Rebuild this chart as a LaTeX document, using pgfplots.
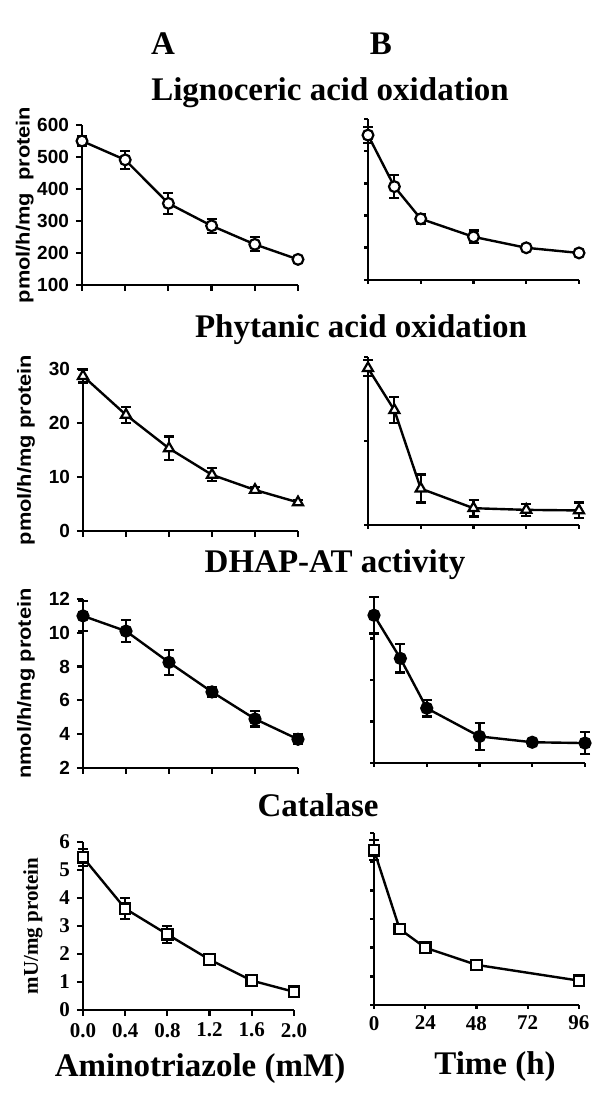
\documentclass[border=0pt]{standalone}
\usepackage{fontspec}
\setmainfont{Liberation Serif}
\newfontfamily\sansw[FakeStretch=1.15]{Liberation Sans}
\newfontfamily\sansn{Liberation Sans}
\usepackage{pgfplots}
\usepackage{pgfplotstable}
\pgfplotsset{compat=1.18}

\pgfplotstableread{
x y e
0   550 15
0.4 491 28
0.8 355 32
1.2 285 22
1.6 227 22
2.0 180 6
}\dataAa
\pgfplotstableread{
x y e
0  550 25
12 390 35
24 290 15
48 234 20
72 200 8
96 184 6
}\dataBa
\pgfplotstableread{
x y e
0   28.7 1.2
0.4 21.5 1.5
0.8 15.3 2.2
1.2 10.4 1.2
1.6 7.6 0.5
2.0 5.3 0.5
}\dataAb
\pgfplotstableread{
x y e
0  28.0 1.4
12 20.5 2.3
24 6.5 2.5
48 3.0 1.5
72 2.7 1.1
96 2.6 1.4
}\dataBb
\pgfplotstableread{
x y e
0   11.0 0.9
0.4 10.1 0.65
0.8 8.25 0.75
1.2 6.5 0.3
1.6 4.9 0.45
2.0 3.7 0.3
}\dataAc
\pgfplotstableread{
x y e
0  10.9 1.1
12 8.3 0.85
24 5.3 0.5
48 3.6 0.8
72 3.25 0.2
96 3.2 0.65
}\dataBc
\pgfplotstableread{
x y e
0   5.45 0.3
0.4 3.62 0.38
0.8 2.7 0.3
1.2 1.8 0.1
1.6 1.05 0.06
2.0 0.65 0.06
}\dataAd
\pgfplotstableread{
x y e
0  5.4 0.35
12 2.65 0.1
24 2.0 0.08
48 1.4 0.06
96 0.85 0.06
}\dataBd

\pgfplotsset{
  panel/.style={scale only axis, axis lines=left,
    axis line style={-, line width=1.4pt, black},
    enlargelimits=false, clip=false, tick align=outside,
    major tick length=3pt, tick style={line width=1.1pt, black},
    /pgf/number format/assume math mode=true,
    every axis plot/.append style={line width=1.2pt, black}},
  Apanel/.style={panel, xmin=0, xmax=2, xtick={0,0.4,0.8,1.2,1.6,2.0}, xticklabels={},
    yticklabel style={font=\sansn\bfseries\fontsize{9.5}{9.5}\selectfont},
    ylabel style={font=\sansw\bfseries\fontsize{9.5}{10}\selectfont,
      at={(axis description cs:-0.265,0.5)}, anchor=center}},
  Bpanel/.style={panel, xmin=0, xmax=96, xtick={0,24,48,72,96}, xticklabels={}, yticklabels={},
    ytick style={line width=1.3pt}, major tick length=2pt},
  eb/.style={error bars/.cd, y dir=both, y explicit,
    error bar style={line width=1.1pt, black},
    error mark options={rotate=90, mark size=2.5pt, line width=1.1pt, black}},
  mo/.style={mark=*, mark size=2.7pt, mark options={fill=white, draw=black, line width=1.1pt}},
  mt/.style={mark=triangle*, mark size=2.9pt, mark options={fill=white, draw=black, line width=1.1pt}},
  mf/.style={mark=*, mark size=2.7pt, mark options={fill=black, draw=black}},
  ms/.style={mark=square*, mark size=2.6pt, mark options={fill=white, draw=black, line width=1.1pt}},
}

\begin{document}
\begin{tikzpicture}
\path[use as bounding box] (0,0) rectangle (300pt,552pt);

% Headers
\node[anchor=base, font=\bfseries\fontsize{16.5}{18}\selectfont] at (81.5pt,524.5pt) {A};
\node[anchor=base, font=\bfseries\fontsize{16.5}{18}\selectfont] at (190.5pt,524.5pt) {B};
\node[anchor=base, font=\bfseries\fontsize{16.5}{18}\selectfont] at (165pt,501.5pt) {Lignoceric acid oxidation};
\node[anchor=base, font=\bfseries\fontsize{16.5}{18}\selectfont] at (180.5pt,383pt) {Phytanic acid oxidation};
\node[anchor=base, font=\bfseries\fontsize{16.5}{18}\selectfont] at (167.5pt,265.5pt) {DHAP-AT activity};
\node[anchor=base, font=\bfseries\fontsize{16.5}{18}\selectfont] at (159pt,143.5pt) {Catalase};
\node[anchor=base, font=\bfseries\fontsize{16.5}{18}\selectfont] at (100pt,13.5pt) {Aminotriazole (mM)};
\node[anchor=base, font=\bfseries\fontsize{16.5}{18}\selectfont] at (247.5pt,14.5pt) {Time (h)};

% Row 1
\begin{axis}[Apanel, at={(41pt,409.5pt)}, anchor=south west, width=108pt, height=80pt,
  ymin=100, ymax=600, ytick={100,200,300,400,500,600}, ylabel={pmol/h/mg\ \ protein}]
\addplot[mo, eb] table[x=x, y=y, y error=e] {\dataAa};
\end{axis}
\begin{axis}[Bpanel, at={(184pt,412pt)}, anchor=south west, width=105.5pt, height=80.5pt,
  ymin=100, ymax=600, ytick={100,200,300,400,500,600}]
\addplot[mo, eb] table[x=x, y=y, y error=e] {\dataBa};
\end{axis}

% Row 2
\begin{axis}[Apanel, at={(41.5pt,286.5pt)}, anchor=south west, width=107.5pt, height=81pt,
  ymin=0, ymax=30, ytick={0,10,20,30}, ylabel={pmol/h/mg protein}]
\addplot[mt, eb] table[x=x, y=y, y error=e] {\dataAb};
\end{axis}
\begin{axis}[Bpanel, at={(184pt,289.5pt)}, anchor=south west, width=105.5pt, height=84pt,
  ymin=0, ymax=30, ytick={0,15,30}]
\addplot[mt, eb] table[x=x, y=y, y error=e] {\dataBb};
\end{axis}

% Row 3
\begin{axis}[Apanel, at={(41.5pt,168pt)}, anchor=south west, width=107.5pt, height=84.5pt,
  ymin=2, ymax=12, ytick={2,4,6,8,10,12}, ylabel={nmol/h/mg protein}]
\addplot[mf, eb] table[x=x, y=y, y error=e] {\dataAc};
\end{axis}
\begin{axis}[Bpanel, at={(187pt,170.5pt)}, anchor=south west, width=105.5pt, height=83pt,
  ymin=2, ymax=12, ytick={2,4.5,7,9.5,12}]
\addplot[mf, eb] table[x=x, y=y, y error=e] {\dataBc};
\end{axis}

% Row 4
\begin{axis}[Apanel, at={(41.5pt,47pt)}, anchor=south west, width=105.5pt, height=84pt,
  ymin=0, ymax=6, ytick={0,1,2,3,4,5,6},
  xticklabels={0.0,0.4,0.8,1.2,1.6,2.0},
  xticklabel style={font=\bfseries\fontsize{10.5}{11}\selectfont},
  yticklabel style={font=\bfseries\fontsize{10.5}{10.5}\selectfont},
  ylabel style={font=\bfseries\fontsize{10.5}{11}\selectfont, at={(axis description cs:-0.237,0.5)}, anchor=center},
  ylabel={mU/mg protein}]
\addplot[ms, eb] table[x=x, y=y, y error=e] {\dataAd};
\end{axis}
\begin{axis}[Bpanel, at={(187pt,49.5pt)}, anchor=south west, width=102.5pt, height=86pt,
  ymin=0, ymax=6, ytick={0,1,2,3,4,5,6},
  xticklabels={0,24,48,72,96},
  xticklabel style={font=\bfseries\fontsize{10.5}{11}\selectfont}]
\addplot[ms, eb] table[x=x, y=y, y error=e] {\dataBd};
\end{axis}
\end{tikzpicture}
\end{document}
